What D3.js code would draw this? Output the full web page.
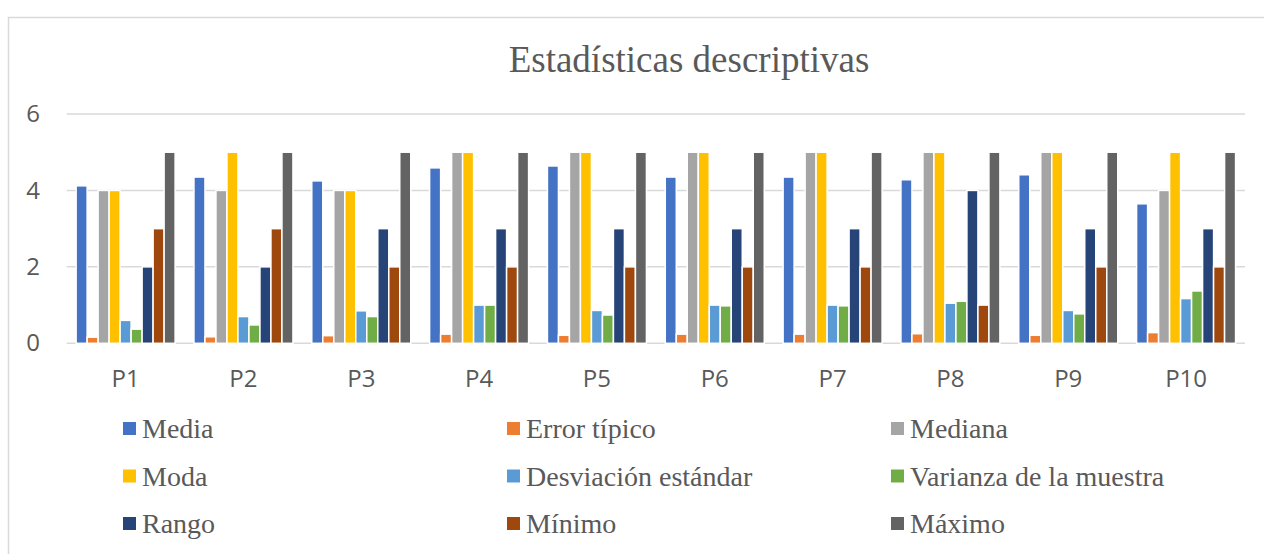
<!DOCTYPE html>
<html>
<head>
<meta charset="utf-8">
<script src="https://cdn.jsdelivr.net/npm/d3@7"></script>
<style>
    body { margin: 0; background: #fff; }
    svg { display: block; }
</style>
</head>
<body>
<div id="chart"></div>
<script>
// data
let categories = ["P1", "P2", "P3", "P4", "P5", "P6", "P7", "P8", "P9", "P10"];
let seriesNames = ["Media", "Error típico", "Mediana", "Moda", "Desviación estándar",
    "Varianza de la muestra", "Rango", "Mínimo", "Máximo"];
let media    = [4.12, 4.35, 4.25, 4.59, 4.64, 4.35, 4.35, 4.28, 4.41, 3.65];
let errorTip = [0.16, 0.17, 0.20, 0.24, 0.21, 0.24, 0.24, 0.25, 0.21, 0.28];
let mediana  = [4, 4, 4, 5, 5, 5, 5, 5, 5, 4];
let moda     = [4, 5, 4, 5, 5, 5, 5, 5, 5, 5];
let desv     = [0.60, 0.70, 0.85, 1.00, 0.86, 1.00, 1.00, 1.05, 0.86, 1.17];
let varianza = [0.37, 0.48, 0.70, 1.00, 0.74, 0.98, 0.98, 1.10, 0.77, 1.37];
let rango    = [2, 2, 3, 3, 3, 3, 3, 4, 3, 3];
let minimo   = [3, 3, 2, 2, 2, 2, 2, 1, 2, 2];
let maximo   = [5, 5, 5, 5, 5, 5, 5, 5, 5, 5];
let yTicks = [0, 2, 4, 6];

let seriesValues = [media, errorTip, mediana, moda, desv, varianza, rango, minimo, maximo];
let colors = ["#4472C4", "#ED7D31", "#A5A5A5", "#FFC000", "#5B9BD5",
    "#70AD47", "#264478", "#9E480E", "#636363"];

let W = 1264, H = 554;
let plot = {left: 66.7, right: 1245, top: 114, bottom: 343.3};
let textColor = "#595959";
let serif = "'Liberation Serif', 'Times New Roman', serif";
let sans = "'Open Sans', sans-serif";

let svg = d3.select("#chart").append("svg")
    .attr("width", W)
    .attr("height", H);

// chart frame
svg.append("rect")
    .attr("x", 8.5)
    .attr("y", 17.5)
    .attr("width", 1400)
    .attr("height", 700)
    .attr("fill", "#fff")
    .attr("stroke", "#d9d9d9")
    .attr("stroke-width", 1.5);

svg.append("text")
    .attr("x", 689)
    .attr("y", 72)
    .attr("text-anchor", "middle")
    .attr("font-family", serif)
    .attr("font-size", "37px")
    .attr("fill", textColor)
    .text("Estadísticas descriptivas");

// scales
let x0 = d3.scaleBand()
    .domain(categories)
    .range([plot.left, plot.right])
    .paddingInner(0.16)
    .paddingOuter(0.08);
let x1 = d3.scaleBand()
    .domain(seriesNames)
    .range([0, x0.bandwidth()]);
let y = d3.scaleLinear()
    .domain([0, 6])
    .range([plot.bottom, plot.top]);

// gridlines
svg.append("g")
    .selectAll("line")
    .data(yTicks)
    .enter().append("line")
    .attr("x1", plot.left)
    .attr("x2", plot.right)
    .attr("y1", function(d) { return y(d); })
    .attr("y2", function(d) { return y(d); })
    .attr("stroke", "#d9d9d9")
    .attr("stroke-width", 1.5);

// y axis labels
let yAxis = svg.append("g")
    .attr("transform", "translate(40,0)")
    .call(d3.axisLeft(y).tickValues(yTicks).tickFormat(d3.format("d")).tickSize(0).tickPadding(0));
yAxis.select(".domain").remove();
yAxis.selectAll("text")
    .attr("font-family", sans)
    .attr("font-size", "24px")
    .attr("fill", textColor);

// x axis labels
let xAxis = svg.append("g")
    .attr("transform", "translate(0," + plot.bottom + ")")
    .call(d3.axisBottom(x0).tickSize(0).tickPadding(27));
xAxis.select(".domain").remove();
xAxis.selectAll("text")
    .attr("font-family", sans)
    .attr("font-size", "24px")
    .attr("fill", textColor);

// bars
let rows = categories.map(function(c, i) {
    return {cat: c, vals: seriesValues.map(function(s, j) { return {name: seriesNames[j], v: s[i], k: j}; })};
});

svg.append("g")
    .selectAll("g")
    .data(rows)
    .enter().append("g")
    .attr("transform", function(d) { return "translate(" + x0(d.cat) + ",0)"; })
    .selectAll("rect")
    .data(function(d) { return d.vals; })
    .enter().append("rect")
    .attr("x", function(d) { return x1(d.name); })
    .attr("y", function(d) { return y(d.v); })
    .attr("width", x1.bandwidth())
    .attr("height", function(d) { return y(0) - y(d.v); })
    .attr("fill", function(d) { return colors[d.k]; })
    .attr("stroke", "#fff")
    .attr("stroke-width", 1.5);

// legend
let legend = svg.append("g")
    .attr("font-family", serif)
    .attr("font-size", "28px")
    .attr("fill", textColor)
    .selectAll("g")
    .data(seriesNames)
    .enter().append("g")
    .attr("transform", function(d, i) {
        return "translate(" + (123 + (i % 3) * 384) + "," + (438 + Math.floor(i / 3) * 47.5) + ")";
    });

legend.append("rect")
    .attr("x", 0)
    .attr("y", -16)
    .attr("width", 13)
    .attr("height", 13)
    .attr("fill", function(d, i) { return colors[i]; });

legend.append("text")
    .attr("x", 19)
    .attr("y", 0)
    .text(function(d) { return d; });
</script>
</body>
</html>
